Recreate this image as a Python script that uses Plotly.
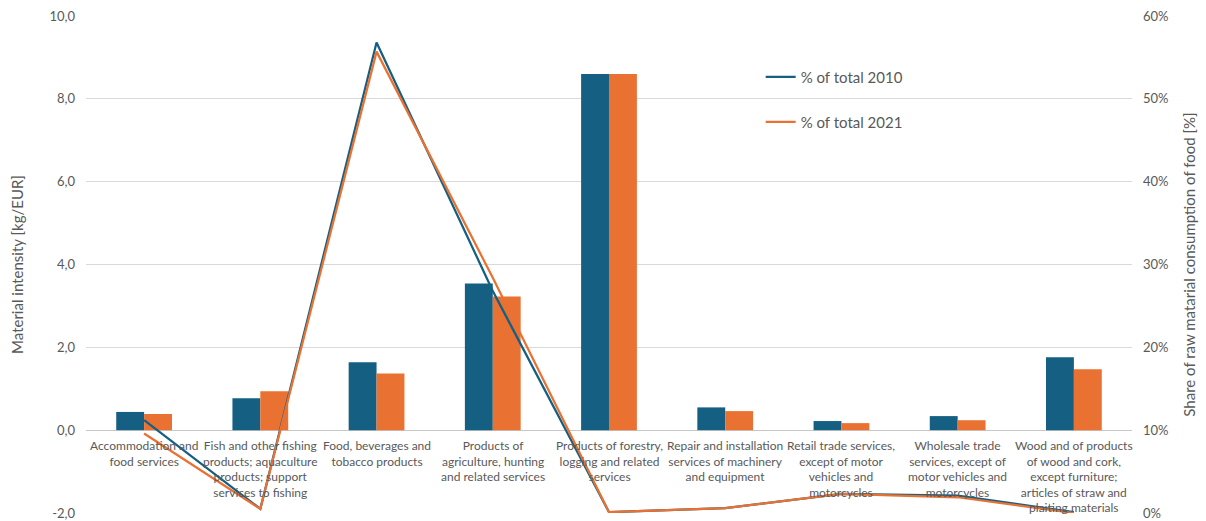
import plotly.graph_objects as go

# Product groups (x categories) with wrapped display labels
categories = [
    "Accommodation and food services",
    "Fish and other fishing products; aquaculture products; support services to fishing",
    "Food, beverages and tobacco products",
    "Products of agriculture, hunting and related services",
    "Products of forestry, logging and related services",
    "Repair and installation services of machinery and equipment",
    "Retail trade services, except of motor vehicles and motorcycles",
    "Wholesale trade services, except of motor vehicles and motorcycles",
    "Wood and of products of wood and cork, except furniture; articles of straw and plaiting materials",
]
category_labels = [
    "Accommodation and<br>food services",
    "Fish and other fishing<br>products; aquaculture<br>products; support<br>services to fishing",
    "Food, beverages and<br>tobacco products",
    "Products of<br>agriculture, hunting<br>and related services",
    "Products of forestry,<br>logging and related<br>services",
    "Repair and installation<br>services of machinery<br>and equipment",
    "Retail trade services,<br>except of motor<br>vehicles and<br>motorcycles",
    "Wholesale trade<br>services, except of<br>motor vehicles and<br>motorcycles",
    "Wood and of products<br>of wood and cork,<br>except furniture;<br>articles of straw and<br>plaiting materials",
]

# Material intensity [kg/EUR]
intensity_2010 = [0.44, 0.77, 1.64, 3.54, 8.60, 0.55, 0.22, 0.34, 1.76]
intensity_2021 = [0.39, 0.94, 1.37, 3.23, 8.60, 0.46, 0.17, 0.24, 1.47]

# Share of raw material consumption of food [%]
share_2010 = [11.2, 0.5, 56.8, 26.8, 0.1, 0.6, 2.3, 2.1, 0.1]
share_2021 = [9.6, 0.5, 55.7, 28.4, 0.1, 0.6, 2.3, 1.9, 0.0]

# Axis ticks
left_tickvals = [-2, 0, 2, 4, 6, 8, 10]
left_ticktext = ["-2,0", "0,0", "2,0", "4,0", "6,0", "8,0", "10,0"]
right_tickvals = [0, 10, 20, 30, 40, 50, 60]
right_ticktext = ["0%", "10%", "20%", "30%", "40%", "50%", "60%"]

BLUE = "#156082"
ORANGE = "#E97132"
TEXT = "#595959"
FONT = "Lato, Roboto, sans-serif"

fig = go.Figure()

fig.add_trace(go.Bar(x=categories, y=intensity_2010, name="2010",
                     marker=dict(color=BLUE, line=dict(width=0)),
                     showlegend=False, yaxis="y"))
fig.add_trace(go.Bar(x=categories, y=intensity_2021, name="2021",
                     marker=dict(color=ORANGE, line=dict(width=0)),
                     showlegend=False, yaxis="y"))

fig.add_trace(go.Scatter(x=categories, y=share_2010, name="% of total 2010",
                         mode="lines", line=dict(color=BLUE, width=2.25),
                         yaxis="y2", legend="legend"))
fig.add_trace(go.Scatter(x=categories, y=share_2021, name="% of total 2021",
                         mode="lines", line=dict(color=ORANGE, width=2.25),
                         yaxis="y2", legend="legend2"))

# Category labels sit just under the zero line, inside the plot area
for cat, lab in zip(categories, category_labels):
    fig.add_annotation(x=cat, y=0, xref="x", yref="y", text=lab,
                       showarrow=False, yanchor="top", xanchor="center",
                       yshift=-6, align="center",
                       font=dict(family=FONT, size=12, color=TEXT))

legend_style = dict(font=dict(family=FONT, size=15, color=TEXT),
                    bgcolor="rgba(0,0,0,0)", itemwidth=30,
                    xanchor="left", yanchor="middle")

fig.update_layout(
    width=1206, height=521,
    margin=dict(l=86, r=74, t=16, b=8, autoexpand=False),
    paper_bgcolor="white", plot_bgcolor="white",
    barmode="group", bargap=0.52, bargroupgap=0,
    font=dict(family=FONT, color=TEXT),
    xaxis=dict(type="category", range=[-0.5, 8.5], showticklabels=False,
               showgrid=False, zeroline=False, showline=False, ticks="",
               automargin=False),
    yaxis=dict(range=[-2, 10], tickvals=left_tickvals, ticktext=left_ticktext,
               showgrid=True, gridcolor="#d9d9d9", gridwidth=1,
               zeroline=True, zerolinecolor="#c8c8c8", zerolinewidth=1,
               showline=False, ticks="", ticklabelstandoff=10,
               automargin=False,
               tickfont=dict(family=FONT, size=13, color=TEXT),
               title=dict(text="Material intensity [kg/EUR]", standoff=22,
                          font=dict(family=FONT, size=15, color=TEXT))),
    yaxis2=dict(range=[0, 60], overlaying="y", side="right",
                tickvals=right_tickvals, ticktext=right_ticktext,
                showgrid=False, zeroline=False, showline=False, ticks="",
                ticklabelstandoff=10, automargin=False,
                tickfont=dict(family=FONT, size=13, color=TEXT),
                title=dict(text="Share of raw matarial consumption of food [%]",
                           standoff=16,
                           font=dict(family=FONT, size=15, color=TEXT))),
    legend=dict(x=0.645, y=(513 - 77) / 497, **legend_style),
    legend2=dict(x=0.645, y=(513 - 122) / 497, **legend_style),
)

fig.write_html("out.html")
